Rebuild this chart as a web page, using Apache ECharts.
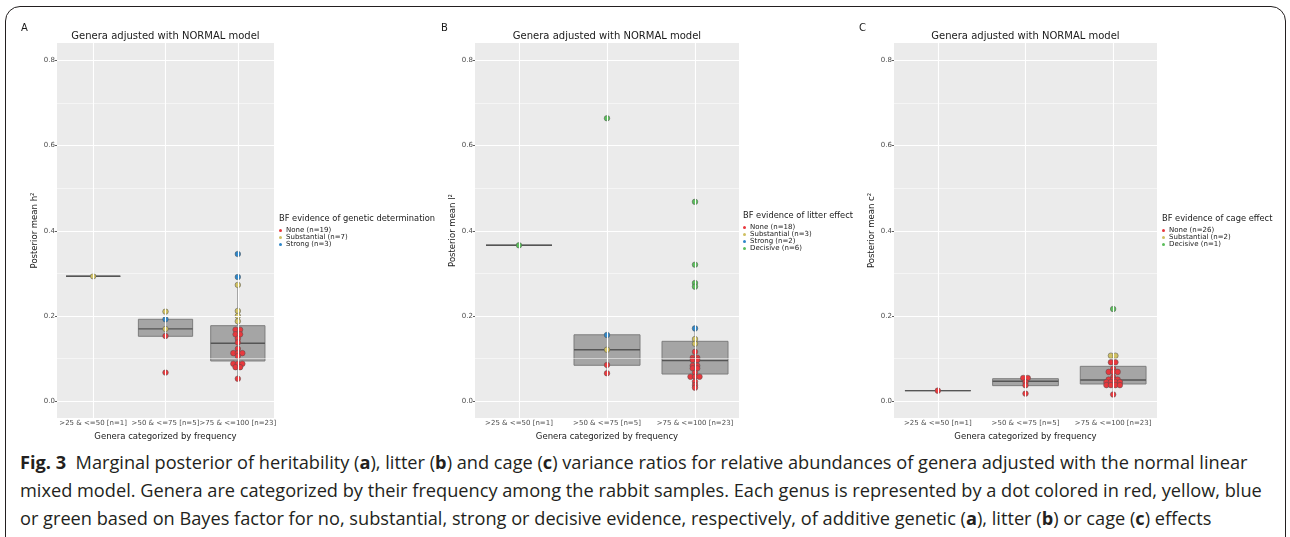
<!DOCTYPE html>
<html><head><meta charset="utf-8">
<script src="https://cdn.jsdelivr.net/npm/echarts@6/dist/echarts.min.js"></script>
<style>
html,body{margin:0;padding:0;background:#fff;width:1290px;height:537px;overflow:hidden;}
#frame{position:absolute;left:5px;top:6px;width:1281px;height:560px;border:1.5px solid #231f20;border-radius:15px;box-sizing:border-box;}
#chart{position:absolute;left:0;top:0;width:1290px;height:448px;}
#cap{position:absolute;left:20px;top:448px;font-family:'Open Sans';font-size:18.2px;line-height:28px;color:#231f20;white-space:nowrap;}
#cap b{font-weight:bold;}
</style></head>
<body>
<div id="frame"></div>
<div id="chart"></div>
<div id="cap"><b>Fig. 3</b>&nbsp; Marginal posterior of heritability (<b>a</b>), litter (<b>b</b>) and cage (<b>c</b>) variance ratios for relative abundances of genera adjusted with the normal linear<br>mixed model. Genera are categorized by their frequency among the rabbit samples. Each genus is represented by a dot colored in red, yellow, blue<br>or green based on Bayes factor for no, substantial, strong or decisive evidence, respectively, of additive genetic (<b>a</b>), litter (<b>b</b>) or cage (<b>c</b>) effects</div>
<script>
// ---------- shared ----------
const categories = ['>25 & <=50 [n=1]', '>50 & <=75 [n=5]', '>75 & <=100 [n=23]'];
const yTicks = [0, 0.2, 0.4, 0.6, 0.8];
const yMinor = [0.1, 0.3, 0.5, 0.7];
const panelTitle = 'Genera adjusted with NORMAL model';
const xName = 'Genera categorized by frequency';

// ---------- panel A (heritability) : points per category ----------
const aNone = [[], [0.1533, 0.0673],
  [0.168, 0.168, 0.157, 0.157, 0.147, 0.138, 0.123, 0.113, 0.113, 0.113, 0.106, 0.088, 0.088, 0.088, 0.080, 0.080, 0.053]];
const aSubst = [[0.2933], [0.2104, 0.1697], [0.273, 0.212, 0.200, 0.1877]];
const aStrong = [[], [0.1924], [0.3455, 0.2916]];
// box: [lowerWhisker, Q1, median, Q3, upperWhisker]
const aBox = [[0.2933, 0.2933, 0.2933, 0.2933, 0.2933], [0.1533, 0.1525, 0.170, 0.1924, 0.2104], [0.053, 0.0946, 0.136, 0.1774, 0.273]];

// ---------- panel B (litter) ----------
const bNone = [[], [0.0852, 0.0657],
  [0.116, 0.102, 0.102, 0.097, 0.097, 0.0835, 0.0835, 0.0774, 0.0774, 0.067, 0.0577, 0.0577, 0.0577, 0.046, 0.038, 0.032]];
const bSubst = [[], [0.121], [0.146, 0.135]];
const bStrong = [[], [0.1556], [0.171]];
const bDecisive = [[0.366], [0.664], [0.468, 0.3205, 0.2775, 0.269]];
const bBox = [[0.366, 0.366, 0.366, 0.366, 0.366], [0.0657, 0.0845, 0.121, 0.156, 0.156], [0.032, 0.064, 0.0953, 0.1407, 0.171]];

// ---------- panel C (cage) ----------
const cNone = [[0.025], [0.0547, 0.0547, 0.045, 0.0375, 0.018],
  [0.0915, 0.0915, 0.076, 0.069, 0.069, 0.069, 0.056, 0.051, 0.051, 0.051, 0.045, 0.045, 0.045, 0.045, 0.038, 0.038, 0.038, 0.038, 0.016]];
const cSubst = [[], [], [0.107, 0.107]];
const cDecisive = [[], [], [0.2166]];
const cBox = [[0.025, 0.025, 0.025, 0.025, 0.025], [0.018, 0.0367, 0.047, 0.053, 0.0547], [0.016, 0.0406, 0.05, 0.082, 0.107]];

const COLORS = {None: '#e8383d', Substantial: '#cfc062', Strong: '#2e86c8', Decisive: '#5bbd5b'};

const panels = [
  {letter: 'A', grid: {left: 57, top: 43, width: 217, height: 375}, yName: 'Posterior mean h\u00B2',
   legendTitle: 'BF evidence of genetic determination', legendX: 279, legendTitleY: 219, legendTop: 227,
   box: aBox, classes: [['None (n=19)', 'None', aNone], ['Substantial (n=7)', 'Substantial', aSubst], ['Strong (n=3)', 'Strong', aStrong]]},
  {letter: 'B', grid: {left: 475, top: 43, width: 264, height: 375}, yName: 'Posterior mean l\u00B2',
   legendTitle: 'BF evidence of litter effect', legendX: 743, legendTitleY: 216, legendTop: 224,
   box: bBox, classes: [['None (n=18)', 'None', bNone], ['Substantial (n=3)', 'Substantial', bSubst], ['Strong (n=2)', 'Strong', bStrong], ['Decisive (n=6)', 'Decisive', bDecisive]]},
  {letter: 'C', grid: {left: 894, top: 43, width: 263, height: 375}, yName: 'Posterior mean c\u00B2',
   legendTitle: 'BF evidence of cage effect', legendX: 1162, legendTitleY: 219, legendTop: 227,
   box: cBox, classes: [['None (n=26)', 'None', cNone], ['Substantial (n=2)', 'Substantial', cSubst], ['Decisive (n=1)', 'Decisive', cDecisive]]}
];
const letterX = [21, 441, 859];

const DOT = 5.6, DOT_GAP = 4.5;

function renderBox(params, api) {
  const c = api.value(0);
  const pLo = api.coord([c, api.value(1)]), pQ1 = api.coord([c, api.value(2)]), pMd = api.coord([c, api.value(3)]),
        pQ3 = api.coord([c, api.value(4)]), pHi = api.coord([c, api.value(5)]);
  const bw = api.size([1, 0])[0] * 0.75;
  const x = pMd[0];
  const edge = '#7d7d7d';
  return {type: 'group', children: [
    {type: 'line', shape: {x1: x, y1: pHi[1], x2: x, y2: pQ3[1]}, style: {stroke: edge, lineWidth: 1}},
    {type: 'line', shape: {x1: x, y1: pQ1[1], x2: x, y2: pLo[1]}, style: {stroke: edge, lineWidth: 1}},
    {type: 'rect', shape: {x: x - bw / 2, y: pQ3[1], width: bw, height: pQ1[1] - pQ3[1]}, style: {fill: '#a5a5a5', stroke: edge, lineWidth: 1}},
    {type: 'line', shape: {x1: x - bw / 2, y1: pMd[1], x2: x + bw / 2, y2: pMd[1]}, style: {stroke: '#555555', lineWidth: 1.4}}
  ]};
}

const grids = [], xAxes = [], yAxes = [], series = [], legends = [], graphics = [];
const FONT = 'DejaVu Sans';

panels.forEach((p, pi) => {
  grids.push(Object.assign({show: true, backgroundColor: '#ebebeb', borderWidth: 0}, p.grid));
  xAxes.push({type: 'category', gridIndex: pi, data: categories, boundaryGap: true,
    name: xName, nameLocation: 'middle', nameGap: 12, nameTextStyle: {fontSize: 8.5, color: '#1a1a1a', fontFamily: FONT},
    axisLine: {show: false}, axisTick: {show: true, alignWithLabel: true, length: 2, lineStyle: {color: '#333', width: 0.8}},
    axisLabel: {interval: 0, fontSize: 7, color: '#4d4d4d', margin: 2, fontFamily: FONT}, splitLine: {show: false}});
  yAxes.push({type: 'value', gridIndex: pi, min: -0.0392, max: 0.8406,
    name: p.yName, nameLocation: 'middle', nameGap: 18, nameTextStyle: {fontSize: 8.5, color: '#1a1a1a', fontFamily: FONT},
    axisLine: {show: false}, axisTick: {show: true, length: 2, customValues: yTicks, lineStyle: {color: '#333', width: 0.8}},
    axisLabel: {customValues: yTicks, fontSize: 7, color: '#4d4d4d', margin: 2, fontFamily: FONT, formatter: v => v.toFixed(1)},
    splitLine: {show: false}});
  // grid lines
  const ml = [];
  yMinor.forEach(v => ml.push({yAxis: v, lineStyle: {color: '#ffffff', width: 0.5, type: 'solid'}}));
  yTicks.forEach(v => ml.push({yAxis: v, lineStyle: {color: '#ffffff', width: 1.1, type: 'solid'}}));
  categories.forEach(c => ml.push({xAxis: c, lineStyle: {color: '#ffffff', width: 1.1, type: 'solid'}}));
  series.push({type: 'line', xAxisIndex: pi, yAxisIndex: pi, data: [], z: 1, silent: true,
    markLine: {silent: true, symbol: ['none', 'none'], label: {show: false}, animation: false, data: ml}});
  // boxes
  series.push({type: 'custom', xAxisIndex: pi, yAxisIndex: pi, z: 2, silent: true, renderItem: renderBox,
    encode: {x: 0, y: [1, 2, 3, 4, 5]}, data: p.box.map((b, i) => [i].concat(b))});
  // dot stacking layout: equal values in a category are laid side by side
  const counts = categories.map(() => ({}));
  p.classes.forEach(cl => cl[2].forEach((vals, ci) => vals.forEach(v => {
    const k = v.toFixed(4); counts[ci][k] = (counts[ci][k] || 0) + 1; })));
  const used = categories.map(() => ({}));
  p.classes.forEach(cl => {
    const data = [];
    cl[2].forEach((vals, ci) => vals.forEach(v => {
      const k = v.toFixed(4); const n = counts[ci][k]; const i = used[ci][k] || 0; used[ci][k] = i + 1;
      data.push({value: [ci, v], symbolOffset: [(i - (n - 1) / 2) * DOT_GAP, 0]});
    }));
    series.push({type: 'scatter', name: cl[0], xAxisIndex: pi, yAxisIndex: pi, z: 3, symbol: 'circle', symbolSize: DOT,
      itemStyle: {color: COLORS[cl[1]], borderColor: '#505050', borderWidth: 0.5, opacity: 1}, data: data});
  });
  legends.push({orient: 'vertical', left: p.legendX, top: p.legendTop, padding: 0, itemGap: 0, itemWidth: 3, itemHeight: 3,
    icon: 'circle', data: p.classes.map(c => c[0]), itemStyle: {borderWidth: 0},
    textStyle: {fontSize: 7, lineHeight: 6.7, color: '#1a1a1a', fontFamily: FONT, padding: [0, 0, 0, -1]}});
  graphics.push({type: 'text', left: letterX[pi], top: 23, style: {text: p.letter, fontSize: 10, fill: '#1a1a1a', fontFamily: FONT}});
  graphics.push({type: 'text', x: p.grid.left + p.grid.width / 2, y: 36.5,
    style: {text: panelTitle, fontSize: 10, fill: '#1a1a1a', fontFamily: FONT, align: 'center', verticalAlign: 'middle'}});
  graphics.push({type: 'text', x: p.legendX, y: p.legendTitleY,
    style: {text: p.legendTitle, fontSize: 8.3, fill: '#1a1a1a', fontFamily: FONT, align: 'left', verticalAlign: 'middle'}});
});

const chart = echarts.init(document.getElementById('chart'), null, {renderer: 'canvas'});
chart.setOption({
  animation: false,
  textStyle: {fontFamily: FONT},
  grid: grids, xAxis: xAxes, yAxis: yAxes, series: series, legend: legends, graphic: graphics
});
</script>
</body></html>
